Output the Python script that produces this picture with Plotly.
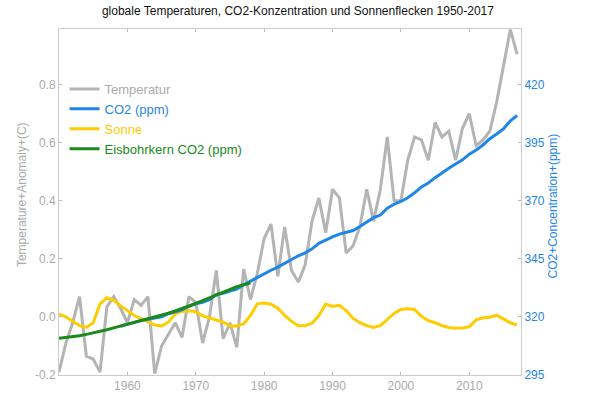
import plotly.graph_objects as go

# ---------------- data ----------------
years = list(range(1950, 2018))

temperature = [
    -0.19, -0.09, -0.02, 0.07, -0.135, -0.145, -0.19, 0.035, 0.07, 0.03,
    -0.02, 0.06, 0.04, 0.07, -0.195, -0.10, -0.06, -0.02, -0.07, 0.07,
    0.05, -0.09, 0.00, 0.16, -0.075, -0.02, -0.105, 0.165, 0.06, 0.15,
    0.27, 0.32, 0.14, 0.31, 0.16, 0.12, 0.18, 0.33, 0.41, 0.29,
    0.44, 0.41, 0.22, 0.245, 0.31, 0.44, 0.33, 0.44, 0.62, 0.40,
    0.40, 0.54, 0.62, 0.61, 0.54, 0.67, 0.62, 0.64, 0.54, 0.65,
    0.70, 0.59, 0.61, 0.64, 0.74, 0.87, 0.99, 0.905,
]

sun = [
    0.010, 0.000, -0.015, -0.030, -0.036, -0.020, 0.045, 0.066, 0.058, 0.038,
    0.022, 0.005, -0.006, -0.018, -0.028, -0.031, -0.018, 0.010, 0.020, 0.021,
    0.018, 0.004, -0.004, -0.010, -0.018, -0.030, -0.031, -0.024, 0.005, 0.045,
    0.048, 0.044, 0.030, 0.005, -0.015, -0.030, -0.030, -0.022, 0.005, 0.044,
    0.036, 0.040, 0.022, -0.005, -0.020, -0.030, -0.036, -0.030, -0.008, 0.012,
    0.026, 0.028, 0.026, 0.002, -0.013, -0.020, -0.030, -0.036, -0.039, -0.038,
    -0.034, -0.010, -0.003, -0.001, 0.006, -0.008, -0.020, -0.028,
]

co2_years = list(range(1959, 2018))
co2 = [
    315.97, 316.91, 317.64, 318.45, 318.99, 319.62, 320.04, 321.38, 322.16, 323.04,
    324.62, 325.68, 326.32, 327.46, 329.68, 330.19, 331.12, 332.03, 333.84, 335.41,
    336.84, 338.76, 340.12, 341.48, 343.15, 344.85, 346.35, 347.61, 349.31, 351.69,
    353.20, 354.45, 355.70, 356.54, 357.21, 358.96, 360.97, 362.74, 363.88, 366.84,
    368.54, 369.71, 371.32, 373.45, 375.98, 377.70, 379.98, 382.09, 384.02, 385.83,
    387.64, 390.10, 391.85, 394.06, 396.74, 398.81, 401.01, 404.41, 406.76,
]

ice_years = list(range(1950, 1979))
ice_co2 = [
    310.8, 311.1, 311.5, 311.9, 312.5, 313.1, 313.7, 314.5, 315.3, 316.1,
    316.8, 317.5, 318.2, 319.0, 319.8, 320.7, 321.6, 322.6, 323.6, 324.7,
    325.8, 327.0, 328.2, 329.5, 330.7, 331.9, 333.0, 333.9, 334.6,
]

x_ticks = [1960, 1970, 1980, 1990, 2000, 2010]
y_ticks = [-0.2, 0.0, 0.2, 0.4, 0.6, 0.8]
y2_ticks = [295, 320, 345, 370, 395, 420]

# ---------------- styles ----------------
GRAY = "#b4b4b4"
BLUE = "#1f86e8"
YELLOW = "#ffcc00"
GREEN = "#1a8a1a"
FONT = "Liberation Sans, Arial, sans-serif"

y_range = [-0.2, 0.992]
y2_range = [295 + (y_range[0] + 0.2) * 125, 295 + (y_range[1] + 0.2) * 125]


def lbl(text, color):
    return f"<span style='color:{color}'>{text}</span>"


fig = go.Figure()
fig.add_trace(go.Scatter(x=years, y=temperature, mode="lines", name=lbl("Temperatur", "#aaaaaa"),
                         line=dict(color=GRAY, width=3), legendrank=1))
fig.add_trace(go.Scatter(x=years, y=sun, mode="lines", name=lbl("Sonne", YELLOW),
                         line=dict(color=YELLOW, width=3), legendrank=3))
fig.add_trace(go.Scatter(x=co2_years, y=co2, mode="lines", name=lbl("CO2 (ppm)", BLUE),
                         line=dict(color=BLUE, width=3), yaxis="y2", legendrank=2))
fig.add_trace(go.Scatter(x=ice_years, y=ice_co2, mode="lines", name=lbl("Eisbohrkern CO2 (ppm)", GREEN),
                         line=dict(color=GREEN, width=3), yaxis="y2", legendrank=4))

axis_common = dict(showgrid=False, zeroline=False, showline=True, linecolor="#cccccc", linewidth=1,
                   ticks="inside", ticklen=3, tickcolor="#bbbbbb", automargin=False)

fig.update_layout(
    width=590, height=393,
    autosize=False,
    margin=dict(l=59, r=69, t=29, b=18, pad=0, autoexpand=False),
    paper_bgcolor="white", plot_bgcolor="white",
    font=dict(family=FONT, size=12, color="#aaaaaa"),
    title=dict(text="globale Temperaturen, CO2-Konzentration und Sonnenflecken 1950-2017",
               x=0.505, xanchor="center", y=1 - 11 / 393, yanchor="middle", yref="container",
               font=dict(family=FONT, size=12, color="#111111")),
    xaxis=dict(range=[1950, 2017.56], tickvals=x_ticks, mirror="ticks",
               tickfont=dict(color="#aaaaaa", size=12), **axis_common),
    yaxis=dict(range=y_range, tickvals=y_ticks, ticktext=[f"{v:.1f}" for v in y_ticks],
               tickfont=dict(color="#aaaaaa", size=12), **axis_common),
    yaxis2=dict(range=y2_range, tickvals=y2_ticks, overlaying="y", side="right",
                tickfont=dict(color=BLUE, size=12), **axis_common),
    legend=dict(x=0.012, y=0.87, xanchor="left", yanchor="top", bgcolor="rgba(0,0,0,0)",
                font=dict(size=13, family=FONT), itemwidth=30, tracegroupgap=0),
    showlegend=True,
    annotations=[
        dict(text="Temperature+Anomaly+(C)", xref="paper", yref="paper", x=-0.08, y=0.52,
             textangle=-90, showarrow=False, xanchor="center", yanchor="middle",
             font=dict(family=FONT, size=12, color="#aaaaaa")),
        dict(text="CO2+Concentration+(ppm)", xref="paper", yref="paper", x=1.07, y=0.488,
             textangle=-90, showarrow=False, xanchor="center", yanchor="middle",
             font=dict(family=FONT, size=12, color=BLUE)),
    ],
)

fig.write_html("out.html", config={"displayModeBar": False},
               post_script="document.body.style.margin='0';")
